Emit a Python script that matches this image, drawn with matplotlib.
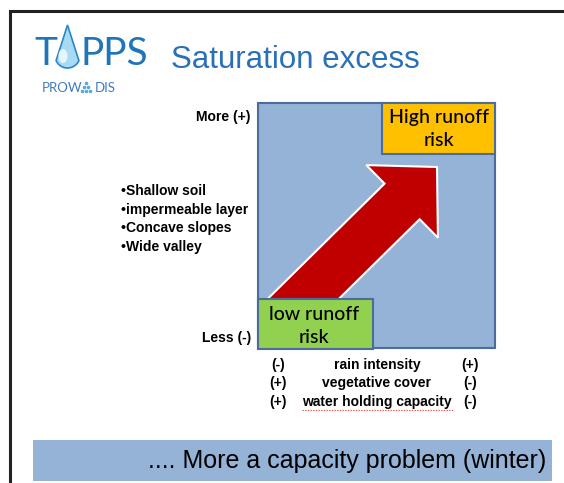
import numpy as np
import matplotlib.pyplot as plt
from matplotlib.patches import Rectangle, FancyArrow, Polygon, Ellipse

# slide texts
title = "Saturation excess"
logo_left = "T"
logo_right = "PPS"
logo_sub = ["PROW", "DIS"]
y_labels = ["More (+)", "Less (-)"]
conditions = ["•Shallow soil", "•impermeable layer", "•Concave slopes", "•Wide valley"]
factors = ["rain intensity", "vegetative cover", "water holding capacity"]
left_signs = ["(-)", "(+)", "(+)"]
right_signs = ["(+)", "(-)", "(-)"]
high_label = "High runoff\nrisk"
low_label = "low runoff\nrisk"
footer = ".... More a capacity problem (winter)"

BLUE_BOX = "#95b3d7"
EDGE = "#4a6d9c"
ARIAL = ["Liberation Sans", "DejaVu Sans"]
CALIBRI = ["Lato", "DejaVu Sans"]
NARROW = ["Liberation Sans Narrow", "Liberation Sans", "DejaVu Sans"]

fig = plt.figure(figsize=(5.64, 4.83), dpi=100)
ax = fig.add_axes([0, 0, 1, 1])
ax.set_xlim(0, 564)
ax.set_ylim(483, 0)
ax.set_aspect("equal")
ax.axis("off")

# slide frame
ax.plot([10, 10, 564], [483, 11, 11], color="#222222", lw=2.2, solid_joinstyle="miter")

# logo
logo_blue = "#1f75b8"
ax.text(34, 54, logo_left, fontsize=28, color=logo_blue, family=CALIBRI,
        va="center", ha="left")
ax.text(81, 54, logo_right, fontsize=28, color=logo_blue, family=CALIBRI,
        va="center", ha="left")
cx, cy, r = 67.5, 55.5, 12.5
tip = (67.5, 25)
d = cy - tip[1]
a = np.arcsin(r / d)
angles = np.linspace(np.pi + a, 2 * np.pi - a, 40)  # wrap through the bottom
arc_pts = [(cx + r * np.cos(t), cy - r * np.sin(t)) for t in angles[::-1]]
drop = Polygon([tip] + arc_pts[::-1], closed=True, facecolor="#a8daf3",
               edgecolor="#2b86c8", lw=1.2, zorder=3)
ax.add_patch(drop)
ax.add_patch(Ellipse((63, 56), 9, 14, facecolor="#e4f5fd", edgecolor="none", zorder=4))
ax.text(42, 88, logo_sub[0], fontsize=9.5, color="#3f7cc0", family=CALIBRI,
        va="center", ha="left")
ax.text(116, 88, logo_sub[1], fontsize=9.5, color="#3f7cc0", family=CALIBRI,
        va="center", ha="right")
ax.scatter([86, 84, 88, 82, 86, 90], [83, 87, 87, 91, 91, 91], s=2.5, color="#5aa8dc", zorder=3)

# title
ax.text(171, 60, title, fontsize=22.5, color="#2a70b8", family=ARIAL, va="center", ha="left")

# main quadrant box
ax.add_patch(Rectangle((258, 103), 237, 245, facecolor=BLUE_BOX, edgecolor=EDGE, lw=1.5, zorder=1))

# arrow from low to high risk
tip_xy = np.array([437.0, 167.0])
direction = np.array([0.712, -0.702])
direction /= np.linalg.norm(direction)
length = 225
tail = tip_xy - direction * length
ax.add_patch(FancyArrow(tail[0], tail[1], *(direction * length), width=50, head_width=102,
                        head_length=49, length_includes_head=True, facecolor="#c00000",
                        edgecolor="white", lw=1.5, zorder=2))

# risk boxes
ax.add_patch(Rectangle((382, 103), 113, 51, facecolor="#ffc000", edgecolor=EDGE, lw=1.5, zorder=3))
ax.text(439, 129, high_label, fontsize=14, family=CALIBRI, fontweight="medium",
        ha="center", va="center", linespacing=1.4, zorder=4)
ax.add_patch(Rectangle((258, 299), 115, 50, facecolor="#92d050", edgecolor=EDGE, lw=1.5, zorder=3))
ax.text(314, 326, low_label, fontsize=14, family=CALIBRI, fontweight="medium",
        ha="center", va="center", linespacing=1.4, zorder=4)

# axis labels
LBL = dict(fontsize=10, fontweight="bold", family=ARIAL, va="center")
ax.text(251, 117, y_labels[0], ha="right", **LBL)
ax.text(251, 338, y_labels[1], ha="right", **LBL)

for i, line in enumerate(conditions):
    ax.text(121, 191 + i * 18.7, line, ha="left", **LBL)

for i, (ls, name, rs) in enumerate(zip(left_signs, factors, right_signs)):
    y = 365 + i * 18.5
    ax.text(278, y, ls, ha="center", **LBL)
    ax.text(377, y, name, ha="center", **LBL)
    ax.text(470, y, rs, ha="center", **LBL)
# spell-check underline
ax.plot([302, 454], [410, 410], color="#e05050", lw=0.8, ls=(0, (1.2, 1.2)))

# footer banner
ax.add_patch(Rectangle((33, 440), 519, 41, facecolor=BLUE_BOX, edgecolor="none", zorder=1))
ax.text(546, 461, footer, fontsize=18, family=NARROW, ha="right", va="center", zorder=2)

fig.savefig("out.png", dpi=100)
